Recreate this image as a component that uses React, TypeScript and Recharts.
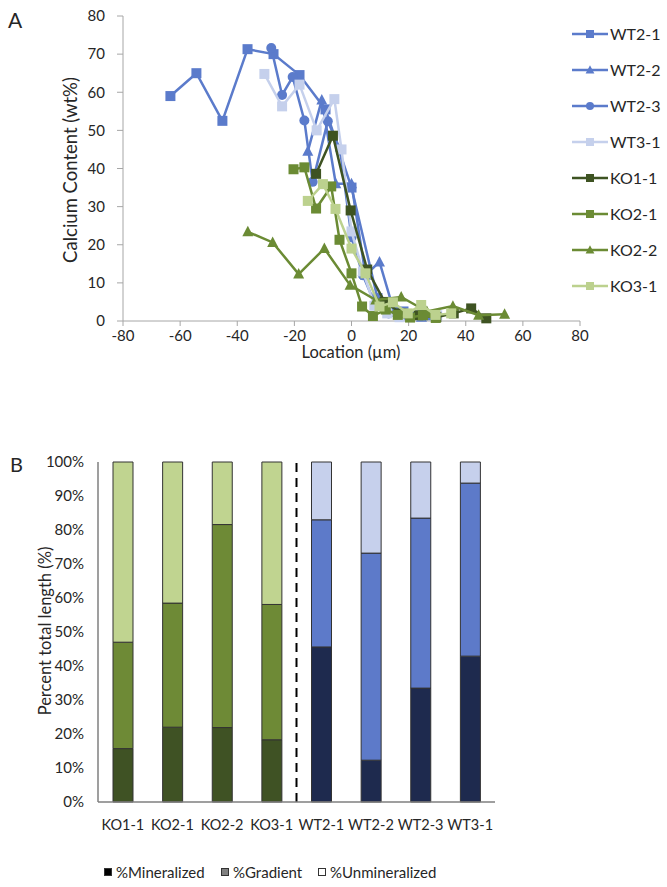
import React from "react";
import {
  ScatterChart,
  Scatter,
  BarChart,
  Bar,
  XAxis,
  YAxis,
  Cell,
  ReferenceLine,
} from "recharts";

const FONT = "Lato, 'Open Sans', sans-serif";
const TEXT = "#262626";
const AXIS = "#a6a6a6";

const BLUE = "#5b7bcb";
const BLUE_LIGHT = "#c5d0ec";
const GREEN_DARK = "#3e5322";
const GREEN = "#6b8b34";
const GREEN_LIGHT = "#bcd18e";

// panel A: calcium content vs location, [x µm, y wt%]
const wt21 = [[-63.4, 59], [-54.3, 65], [-45.2, 52.5], [-36.4, 71.3], [-27.3, 70], [-18.2, 64.5], [-9.1, 55.5], [0, 35], [9.1, 6], [18.2, 2.5], [27.3, 1.5]];
const wt22 = [[-15.3, 44.5], [-10.4, 58], [-5.5, 36], [0, 36], [4.9, 12], [9.8, 15.5], [14.7, 3], [19.6, 1.5], [24.5, 1]];
const wt23 = [[-28.1, 71.6], [-24.3, 59.3], [-20.6, 64], [-16.5, 52.6], [-13.6, 36.5], [-8.3, 52.4], [-4, 45], [0, 22], [4, 12], [8.5, 4], [13, 2], [17.5, 1.2]];
const wt31 = [[-30.5, 64.8], [-24.3, 56.3], [-18.2, 62], [-12.2, 50], [-6, 58.2], [-3.5, 45], [0, 23.5], [4, 13], [8, 4], [12.5, 2], [16.8, 1], [23.8, 1.5], [30, 1.5]];
const ko11 = [[-12.4, 38.6], [-6.5, 48.6], [-0.3, 29], [5.5, 13.5], [11.6, 5], [17.5, 2], [23.5, 1.5], [29.7, 1], [35.8, 2], [41.9, 3.3], [47.2, 0.7]];
const ko21 = [[-20.3, 39.8], [-16.5, 40.3], [-12.4, 29.5], [-7.1, 35.3], [-4.2, 21.3], [0, 12.5], [3.7, 3.8], [7.5, 1.3], [12, 3], [16.2, 1.6], [20.5, 0.9], [25, 1.5], [29.5, 0.8]];
const ko22 = [[-36.3, 23.4], [-27.6, 20.6], [-18.5, 12.3], [-9.5, 19], [-0.5, 9.4], [8.5, 5.5], [17.4, 6.3], [26.4, 2.5], [35.5, 3.9], [44.5, 1.5], [53.6, 1.8]];
const ko31 = [[-15.3, 31.5], [-10, 35.9], [-5.6, 29.4], [0, 19], [4.9, 12.5], [9.8, 3.8], [14.5, 4.9], [19.7, 2], [24.4, 4.2], [29.4, 1.6], [34.9, 2]];

const xTicks = [-80, -60, -40, -20, 0, 20, 40, 60, 80];
const yTicks = [0, 10, 20, 30, 40, 50, 60, 70, 80];

// panel B: percent of total length
const samples = ["KO1-1", "KO2-1", "KO2-2", "KO3-1", "WT2-1", "WT2-2", "WT2-3", "WT3-1"];
const mineralized = [15.7, 22.0, 21.9, 18.3, 45.6, 12.3, 33.5, 42.9];
const gradient = [31.3, 36.5, 59.7, 39.8, 37.4, 60.9, 50.0, 50.9];
const unmineralized = [53.0, 41.5, 18.4, 41.9, 17.0, 26.8, 16.5, 6.2];
const pctTicks = [0, 10, 20, 30, 40, 50, 60, 70, 80, 90, 100];

type Kind = "square" | "triangle" | "circle";

const series: { name: string; pts: number[][]; color: string; kind: Kind }[] = [
  { name: "WT2-1", pts: wt21, color: BLUE, kind: "square" },
  { name: "WT2-2", pts: wt22, color: BLUE, kind: "triangle" },
  { name: "WT2-3", pts: wt23, color: BLUE, kind: "circle" },
  { name: "WT3-1", pts: wt31, color: BLUE_LIGHT, kind: "square" },
  { name: "KO1-1", pts: ko11, color: GREEN_DARK, kind: "square" },
  { name: "KO2-1", pts: ko21, color: GREEN, kind: "square" },
  { name: "KO2-2", pts: ko22, color: GREEN, kind: "triangle" },
  { name: "KO3-1", pts: ko31, color: GREEN_LIGHT, kind: "square" },
];

function Marker({ kind, cx, cy, color, s }: { kind: Kind; cx: number; cy: number; color: string; s: number }) {
  if (cx == null || cy == null) return null;
  if (kind === "circle") return <circle cx={cx} cy={cy} r={s / 2} fill={color} />;
  if (kind === "triangle") {
    const h = s * 0.5;
    return <polygon points={`${cx},${cy - h * 1.2} ${cx + h * 1.1},${cy + h * 0.9} ${cx - h * 1.1},${cy + h * 0.9}`} fill={color} />;
  }
  return <rect x={cx - s / 2} y={cy - s / 2} width={s} height={s} fill={color} />;
}

const barColors = {
  KO: ["#3f5224", "#6e8a36", "#c0d490"],
  WT: ["#1e2a4e", "#5d7ac9", "#c6d0ec"],
};

const barData = samples.map((name, i) => ({
  name,
  min: mineralized[i],
  grad: gradient[i],
  unmin: unmineralized[i],
}));

const lineTick = { fontSize: 15, fill: TEXT, fontFamily: FONT };
const barXTick = { fontSize: 14.5, fill: TEXT, fontFamily: FONT };
const barYTick = { fontSize: 15, fill: TEXT, fontFamily: FONT };

function LineLegend() {
  return (
    <div style={{ position: "absolute", left: 572, top: 0 }}>
      {series.map((s, i) => (
        <div
          key={s.name}
          style={{ position: "absolute", top: 33.5 + i * 36 - 10, left: 0, display: "flex", alignItems: "center", height: 20, whiteSpace: "nowrap" }}
        >
          <svg width={38} height={14}>
            <line x1={0} y1={7} x2={36} y2={7} stroke={s.color} strokeWidth={2.5} />
            <Marker kind={s.kind} cx={18} cy={7} color={s.color} s={8} />
          </svg>
          <span style={{ fontFamily: FONT, fontSize: 16, color: TEXT }}>{s.name}</span>
        </div>
      ))}
    </div>
  );
}

function BarLegend() {
  const items = [
    { label: "%Mineralized", fill: "#000", x: 104 },
    { label: "%Gradient", fill: "#808080", x: 221 },
    { label: "%Unmineralized", fill: "#fff", x: 318 },
  ];
  return (
    <>
      {items.map((it) => (
        <div
          key={it.label}
          style={{ position: "absolute", left: it.x, top: 862, height: 20, display: "flex", alignItems: "center", whiteSpace: "nowrap" }}
        >
          <span style={{ width: 8, height: 8, background: it.fill, border: "1px solid #333", boxSizing: "border-box", marginRight: 4 }} />
          <span style={{ fontFamily: FONT, fontSize: 15, color: TEXT }}>{it.label}</span>
        </div>
      ))}
    </>
  );
}

export default function App() {
  return (
    <div style={{ position: "absolute", left: 0, top: 0, width: 667, height: 887, background: "#fff", overflow: "hidden" }}>
      <div style={{ position: "absolute", left: 8, top: 7, fontFamily: FONT, fontSize: 21, color: TEXT }}>A</div>
      <div style={{ position: "absolute", left: 10, top: 452, fontFamily: FONT, fontSize: 20, color: TEXT }}>B</div>

      <div style={{ position: "absolute", left: 0, top: 0 }}>
        <ScatterChart width={667} height={370} margin={{ top: 16, right: 87, bottom: 0, left: 0 }}>
          <XAxis
            type="number"
            dataKey="x"
            domain={[-80, 80]}
            ticks={xTicks}
            height={49}
            tick={lineTick}
            tickSize={5}
            tickMargin={4}
            axisLine={{ stroke: AXIS }}
            tickLine={{ stroke: AXIS }}
            label={{
              content: () => (
                <text x={351} y={352} textAnchor="middle" dominantBaseline="central" fontSize={16.5} fontFamily={FONT} fill={TEXT}>
                  Location (µm)
                </text>
              ),
            }}
          />
          <YAxis
            type="number"
            dataKey="y"
            domain={[0, 80]}
            ticks={yTicks}
            width={123}
            tick={lineTick}
            tickSize={6}
            tickMargin={12}
            axisLine={{ stroke: AXIS }}
            tickLine={{ stroke: AXIS }}
            label={{
              content: () => (
                <text
                  x={70}
                  y={170}
                  transform="rotate(-90 70 170)"
                  textAnchor="middle"
                  dominantBaseline="central"
                  fontSize={18.5}
                  fontFamily={FONT}
                  fill={TEXT}
                >
                  Calcium Content (wt%)
                </text>
              ),
            }}
          />
          {series.map((s) => (
            <Scatter
              key={s.name}
              name={s.name}
              data={s.pts.map(([x, y]) => ({ x, y }))}
              fill={s.color}
              line={{ stroke: s.color, strokeWidth: 2.5 }}
              shape={(p: any) => <Marker kind={s.kind} cx={p.cx} cy={p.cy} color={s.color} s={10} />}
              isAnimationActive={false}
            />
          ))}
        </ScatterChart>
      </div>
      <LineLegend />

      <div style={{ position: "absolute", left: 0, top: 440 }}>
        <BarChart width={667} height={447} data={barData} margin={{ top: 22, right: 172, bottom: 55, left: 0 }}>
          <XAxis
            dataKey="name"
            height={30}
            tick={barXTick}
            tickSize={0}
            tickMargin={18}
            axisLine={{ stroke: "#7f7f7f", strokeWidth: 1.5 }}
            interval={0}
          />
          <YAxis
            domain={[0, 100]}
            ticks={pctTicks}
            width={98}
            tick={barYTick}
            tickSize={0}
            tickMargin={14}
            tickFormatter={(v) => `${v}%`}
            axisLine={{ stroke: "#7f7f7f", strokeWidth: 1.5 }}
            label={{
              content: () => (
                <text
                  x={45}
                  y={191}
                  transform="rotate(-90 45 191)"
                  textAnchor="middle"
                  dominantBaseline="central"
                  fontSize={16.5}
                  fontFamily={FONT}
                  fill={TEXT}
                >
                  Percent total length (%)
                </text>
              ),
            }}
          />
          {(["min", "grad", "unmin"] as const).map((key, level) => (
            <Bar key={key} dataKey={key} stackId="a" barSize={20} stroke="#333" strokeWidth={1} isAnimationActive={false}>
              {barData.map((d) => (
                <Cell key={d.name} fill={barColors[d.name.startsWith("KO") ? "KO" : "WT"][level]} />
              ))}
            </Bar>
          ))}
          <ReferenceLine x="KO3-1" position="end" stroke="#000" strokeWidth={2} strokeDasharray="9 6" />
        </BarChart>
      </div>
      <BarLegend />
    </div>
  );
}
